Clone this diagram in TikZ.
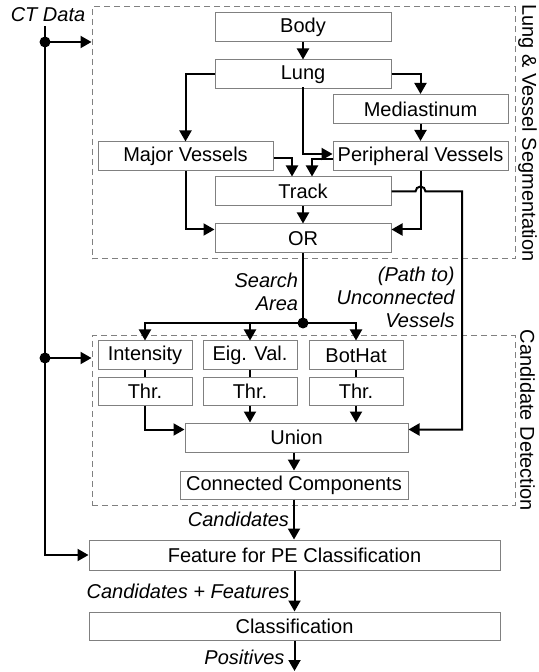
\documentclass[tikz,border=0pt]{standalone}
\usepackage{fontspec}
\setmainfont{Liberation Sans}
\usetikzlibrary{arrows.meta}
\tikzset{
	blk/.style={draw=gray, line width=0.5pt, minimum height=14.5pt, inner sep=0pt, font=\fontsize{10}{12}\selectfont},
	lbl/.style={font=\fontsize{10}{11.5}\selectfont\itshape, inner sep=2pt},
	grp/.style={draw=gray, line width=0.5pt, dash pattern=on 3pt off 2pt, inner sep=0pt},
	glbl/.style={font=\fontsize{10}{12}\selectfont, rotate=-90, inner sep=0pt},
	con/.style={line width=1pt},
	arr/.style={line width=1pt, -{Triangle[length=5.5pt,width=6pt]}},
}
\begin{document}
\begin{tikzpicture}[x=0.5pt,y=-0.5pt]
		\useasboundingbox (0,0) rectangle (538,672);
		% groups
		\node[grp, minimum width=211.5pt, minimum height=126pt] (seg) at (303.5,133) {};
		\node[grp, minimum width=211.5pt, minimum height=84.5pt] (cand) at (303.5,420.5) {};
		\node[glbl] (seglbl) at ([xshift=6pt]seg.east) {Lung \& Vessel Segmentation};
		\node[glbl] (candlbl) at ([xshift=6pt]cand.east) {Candidate Detection};

		\node[blk, minimum width=88pt] (body) at (303,27) {Body};
		\node[blk, minimum width=88pt] (lung) at (303,74.5) {Lung};
		\node[blk, minimum width=87.5pt] (medi) at (420.5,109) {Mediastinum};
		\node[blk, minimum width=87.5pt] (major) at (185.5,156.5) {Major Vessels};
		\node[blk, minimum width=87.5pt] (peri) at (420.5,156) {Peripheral Vessels};
		\node[blk, minimum width=88pt] (track) at (303,191.5) {Track};
		\node[blk, minimum width=88pt] (or) at (303,238.5) {OR};

		\foreach \n/\x/\t in {int/145/Intensity, eig/250/Eig. Val., bot/356/BotHat}{
			\node[blk, minimum width=47pt] (\n) at (\x,355.5) {\t};
			\node[blk, minimum width=47pt, minimum height=14pt] (thr\n) at (\x,391) {Thr.};
			\draw[con] (\n) -- (thr\n);
		}
		\node[blk, minimum width=111.5pt] (union) at (296.5,437.5) {Union};
		\node[blk, minimum width=114pt, minimum height=14pt] (cc) at (294,485) {Connected Components};
		\node[blk, minimum width=205.5pt, minimum height=15pt] (feat) at (294.5,555) {Feature for PE Classification};
		\node[blk, minimum width=205.5pt, minimum height=14pt] (class) at (294.5,626) {Classification};

		% CT data
		\node[lbl] (ct) at (48,15) {CT Data};
		\coordinate (ctseg) at (45,42);
		\coordinate (ctcand) at (45,358);
		\draw[arr] (ctseg |- ct.south) |- (feat.west);
		\draw[arr] (ctseg) -- (ctseg -| seg.west);
		\draw[arr] (ctcand) -- (ctcand -| cand.west);
		\fill (ctseg) circle (2.75pt);
		\fill (ctcand) circle (2.75pt);

		% segmentation
		\draw[arr] (body) -- (lung);
		\draw[arr] (lung.east) -| (medi.north);
		\draw[arr] (lung.west) -| (major.north);
		\draw[arr] ([yshift=1pt]lung.south) |- ([yshift=1pt]peri.west);
		\draw[arr] (medi) -- (peri);
		\draw[arr] ([yshift=-1pt]major.east) -| ([xshift=-5.5pt]track.north);
		\draw[arr] ([yshift=-1.5pt]peri.west) -| ([xshift=4.5pt]track.north);
		\draw[arr] (major.south) |- ([yshift=4.5pt]or.west);
		\draw[arr] (peri.south) |- ([yshift=4.5pt]or.east);
		\draw[arr] (track) -- (or);

		% unconnected vessels, hop over the peripheral line
		\coordinate (hop) at (peri.south |- track.east);
		\coordinate (uvbend) at (462,191.5);
		\draw[arr] (track.east) -- ([xshift=-2.5pt]hop) arc[start angle=180, end angle=0, radius=2.5pt] -- (uvbend) |- ([yshift=4pt]union.east);
		\node[lbl, anchor=east, align=right] (uvlbl) at (459,297) {(Path to)\\Unconnected\\Vessels};

		% search area
		\coordinate (split) at (303,323);
		\draw[con] (or) -- (split) node[lbl, pos=0.55, left, align=right] {Search\\Area};
		\fill (split) circle (2.75pt);
		\foreach \n in {int,eig,bot} \draw[arr] (split) -| (\n.north);

		% candidate detection
		\draw[arr] (thrint.south) |- ([yshift=4pt]union.west);
		\draw[arr] (threig.south) -- (threig.south |- union.north);
		\draw[arr] (thrbot.south) -- (thrbot.south |- union.north);
		\draw[arr] (union.south -| cc.north) -- (cc.north);
		\draw[arr] (cc.south) -- (cc.south |- feat.north) node[lbl, midway, left] {Candidates};
		\draw[arr] (feat) -- (class) node[lbl, midway, left] {Candidates + Features};
		\coordinate (out) at (294.5,671);
		\draw[arr] (class) -- (out) node[lbl, pos=0.55, left, xshift=-2.5pt] {Positives};
\end{tikzpicture}
\end{document}
